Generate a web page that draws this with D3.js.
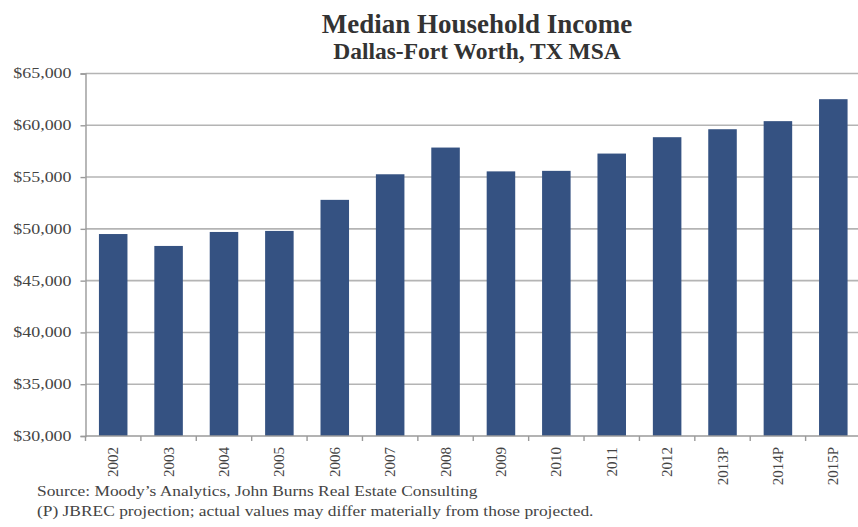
<!DOCTYPE html>
<html>
<head>
<meta charset="utf-8">
<script src="https://cdn.jsdelivr.net/npm/d3@7"></script>
<style>
  html, body { margin: 0; padding: 0; background: #fff; }
  svg { display: block; }
  text { font-family: "Liberation Serif", "Times New Roman", serif; }
</style>
</head>
<body>
<svg id="chart" width="858" height="527"></svg>
<script>
const categories = ["2002","2003","2004","2005","2006","2007","2008","2009","2010","2011","2012","2013P","2014P","2015P"];
const incomeValues = [49500, 48350, 49700, 49800, 52800, 55270, 57850, 55550, 55600, 57270, 58850, 59620, 60400, 62520];
const yTickValues = [30000, 35000, 40000, 45000, 50000, 55000, 60000, 65000];
const titleText = "Median Household Income";
const subtitleText = "Dallas-Fort Worth, TX MSA";
const sourceLines = [
  "Source: Moody\u2019s Analytics, John Burns Real Estate Consulting",
  "(P) JBREC projection; actual values may differ materially from those projected."
];

const svg = d3.select("#chart");
const W = 858, H = 527;
const plot = { left: 85.5, right: 861, top: 73.5, bottom: 436 };

const x = d3.scaleBand().domain(categories).range([plot.left, plot.right]).paddingInner(0.485).paddingOuter(0.2425);
const y = d3.scaleLinear().domain([30000, 65000]).range([plot.bottom, plot.top]);

// gridlines
svg.append("g").selectAll("line").data(yTickValues.filter(v => v > 30000)).join("line")
  .attr("x1", plot.left).attr("x2", W)
  .attr("y1", d => y(d)).attr("y2", d => y(d))
  .attr("stroke", "#b4b4b4").attr("stroke-width", 1.6);

// bars
svg.append("g").selectAll("rect").data(categories).join("rect")
  .attr("x", (d) => x(d))
  .attr("width", x.bandwidth())
  .attr("y", (d, i) => y(incomeValues[i]))
  .attr("height", (d, i) => y(30000) - y(incomeValues[i]))
  .attr("fill", "#355282");

// y axis
const yAxis = svg.append("g").attr("transform", `translate(${plot.left},0)`)
  .call(d3.axisLeft(y).tickValues(yTickValues).tickSize(5).tickPadding(8)
    .tickFormat(d => "$" + d3.format(",")(d)));
yAxis.select(".domain").attr("stroke", "#9a9a9a").attr("stroke-width", 1.4);
yAxis.selectAll(".tick line").attr("stroke", "#9a9a9a").attr("stroke-width", 1.4);
yAxis.selectAll(".tick text")
  .attr("font-family", "Liberation Serif").attr("font-size", 14).attr("fill", "#444")
  .attr("transform", "scale(1.28,1)")
  .attr("x", -14 / 1.28).attr("dy", "0.32em");

// x axis
const step = x.step();
const xAxisG = svg.append("g").attr("transform", `translate(0,${plot.bottom})`);
xAxisG.append("line").attr("x1", plot.left).attr("x2", W).attr("stroke", "#9a9a9a").attr("stroke-width", 1.4);
const boundaries = categories.map((c, i) => plot.left + i * step).concat([plot.left + categories.length * step]);
xAxisG.selectAll("line.tk").data(boundaries).join("line").attr("class", "tk")
  .attr("x1", d => d).attr("x2", d => d).attr("y1", 0).attr("y2", 5)
  .attr("stroke", "#9a9a9a").attr("stroke-width", 1.4);
xAxisG.selectAll("text").data(categories).join("text")
  .attr("transform", d => `translate(${x(d) + x.bandwidth() / 2 + 5},11) rotate(-90)`)
  .attr("text-anchor", "end")
  .attr("font-size", 15).attr("fill", "#444")
  .text(d => d);

// titles
svg.append("text").attr("x", 477).attr("y", 33).attr("text-anchor", "middle")
  .attr("font-size", 27).attr("font-weight", "bold").attr("fill", "#333").text(titleText);
svg.append("text").attr("x", 477).attr("y", 59).attr("text-anchor", "middle")
  .attr("font-size", 23.5).attr("font-weight", "bold").attr("fill", "#333").text(subtitleText);

// source
svg.append("g").attr("transform", "translate(37,0) scale(1.16,1)")
  .selectAll("text").data(sourceLines).join("text")
  .attr("x", 0).attr("y", (d, i) => 496 + i * 20)
  .attr("font-size", 15).attr("fill", "#444")
  .text(d => d);
</script>
</body>
</html>
